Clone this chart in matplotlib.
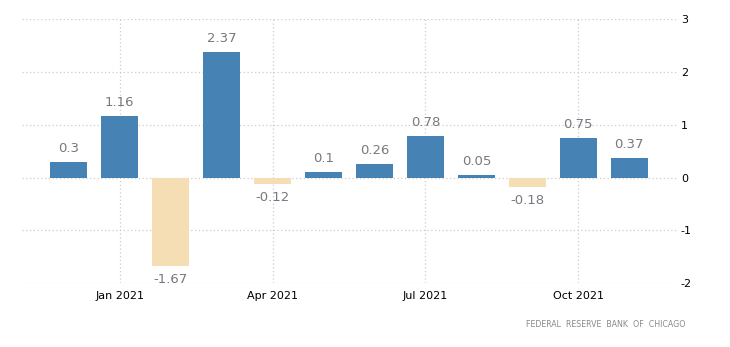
import matplotlib
matplotlib.use('Agg')
import matplotlib.pyplot as plt
import numpy as np

plt.rcParams['axes.unicode_minus'] = False

# Chicago Fed National Activity Index, monthly, Dec 2020 - Nov 2021
months = ['Dec 2020', 'Jan 2021', 'Feb 2021', 'Mar 2021', 'Apr 2021', 'May 2021',
          'Jun 2021', 'Jul 2021', 'Aug 2021', 'Sep 2021', 'Oct 2021', 'Nov 2021']
values = [0.3, 1.16, -1.67, 2.37, -0.12, 0.1, 0.26, 0.78, 0.05, -0.18, 0.75, 0.37]
tick_idx = [1, 4, 7, 10]
tick_labels = ['Jan 2021', 'Apr 2021', 'Jul 2021', 'Oct 2021']

x = np.arange(len(values))
colors = ['#4682b4' if v >= 0 else '#f5deb3' for v in values]

fig = plt.figure(figsize=(7.3, 3.47), dpi=100)
ax = fig.add_axes([0.030, 0.184, 0.897, 0.761])

ax.bar(x, values, width=0.73, color=colors, zorder=2)

for xi, v in zip(x, values):
    if v >= 0:
        ax.annotate(str(v), (xi, v), xytext=(0, 5), textcoords='offset points',
                    ha='center', va='bottom', fontsize=9.5, color='#787880')
    else:
        ax.annotate(str(v), (xi, v), xytext=(0, -5), textcoords='offset points',
                    ha='center', va='top', fontsize=9.5, color='#787880')

ax.set_xlim(-0.92, 11.93)
ax.set_ylim(-2, 3)
ax.set_yticks([-2, -1, 0, 1, 2, 3])
ax.yaxis.tick_right()
ax.set_xticks(tick_idx)
ax.set_xticklabels(tick_labels)
ax.tick_params(length=0, labelsize=8, colors='black', pad=3)
ax.tick_params(axis='x', pad=6)

ax.grid(True, linestyle=(0, (1, 2)), color='#cccccc', linewidth=0.9, zorder=0)
ax.set_axisbelow(True)
for s in ax.spines.values():
    s.set_visible(False)

fig.text(0.939, 0.066, 'FEDERAL  RESERVE  BANK  OF  CHICAGO', ha='right', va='center',
         fontsize=5.7, color='#8a8a8a')

plt.savefig('out.png', dpi=100)
